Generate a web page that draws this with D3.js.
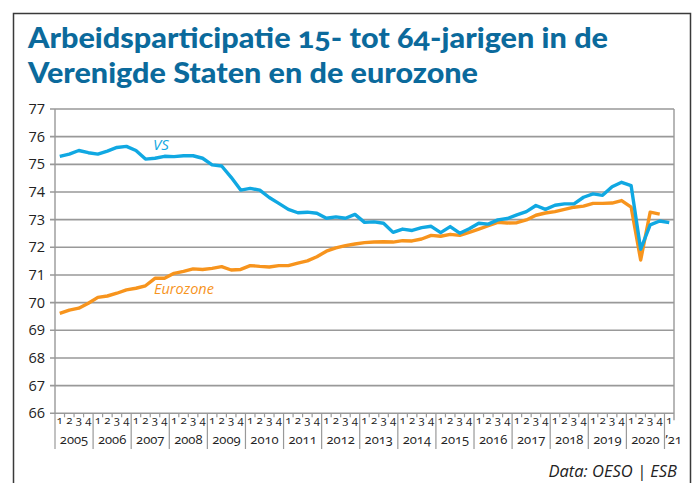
<!DOCTYPE html>
<html>
<head>
<meta charset="utf-8">
<script src="https://cdn.jsdelivr.net/npm/d3@7"></script>
<style>
  body { margin: 0; background: #fff; }
  svg { display: block; }
</style>
</head>
<body>
<div id="chart"></div>
<script>
// years on the x axis, '21 only has its first quarter
var years = ["2005","2006","2007","2008","2009","2010","2011","2012","2013","2014","2015","2016","2017","2018","2019","2020","\u201921"];
var quarterLabels = ["1","2","3","4"];
var yTicks = [66,67,68,69,70,71,72,73,74,75,76,77];

// participation 15-64 (%), 2005Q1 .. 2021Q1
var vs = [75.29,75.37,75.5,75.42,75.37,75.48,75.61,75.65,75.5,75.19,75.22,75.29,75.28,75.31,75.31,75.22,
  74.98,74.94,74.53,74.07,74.13,74.07,73.8,73.59,73.37,73.25,73.27,73.23,73.05,73.1,73.05,73.19,
  72.9,72.92,72.87,72.54,72.66,72.61,72.71,72.76,72.53,72.75,72.51,72.67,72.87,72.84,72.99,73.04,
  73.17,73.29,73.51,73.37,73.52,73.57,73.57,73.81,73.93,73.88,74.19,74.35,74.23,71.93,72.81,72.95,72.89];
// eurozone, 2005Q1 .. 2020Q4
var eurozone = [69.61,69.73,69.8,69.98,70.19,70.24,70.34,70.46,70.52,70.61,70.88,70.88,71.06,71.13,71.22,71.2,
  71.24,71.3,71.18,71.2,71.34,71.31,71.29,71.34,71.34,71.43,71.51,71.66,71.86,71.98,72.06,72.12,
  72.17,72.19,72.2,72.19,72.24,72.23,72.3,72.43,72.4,72.47,72.43,72.54,72.66,72.78,72.9,72.88,
  72.89,72.99,73.16,73.24,73.29,73.37,73.45,73.49,73.59,73.59,73.6,73.69,73.45,71.54,73.27,73.2];

var width = 696, height = 483;
var plotL = 55, plotR = 674, plotT = 109, plotB = 413.3;

var svg = d3.select("#chart").append("svg")
  .attr("width", width)
  .attr("height", height);

svg.append("rect").attr("width", width).attr("height", height).attr("fill", "#fff");

// frame round the whole graphic
svg.append("path")
  .attr("d", "M13.5,483 L13.5,13.5 L690.5,13.5 L690.5,483")
  .attr("fill", "none")
  .attr("stroke", "#3a3a3a")
  .attr("stroke-width", 1.5);

// title
var titleLines = ["Arbeidsparticipatie 15- tot 64-jarigen in de", "Verenigde Staten en de eurozone"];
var titleLen = [580, 450];
svg.selectAll(".title")
  .data(titleLines)
  .enter().append("text")
  .attr("class", "title")
  .attr("x", 28)
  .attr("y", function(d, i) { return 48 + i * 35; })
  .attr("textLength", function(d, i) { return titleLen[i]; })
  .attr("lengthAdjust", "spacingAndGlyphs")
  .style("font-family", "Lato, 'Open Sans', sans-serif")
  .style("font-weight", "900")
  .style("font-size", "29px")
  .style("font-variant-numeric", "oldstyle-nums")
  .style("fill", "#0b6a9c")
  .text(function(d) { return d; });

var n = vs.length; // 65 quarters
var x = d3.scaleBand()
  .domain(d3.range(n))
  .range([plotL, plotR])
  .paddingInner(0).paddingOuter(0);

var y = d3.scaleLinear()
  .domain([66, 77])
  .range([plotB, plotT]);

// gridlines + ticks
svg.selectAll(".grid")
  .data(yTicks)
  .enter().append("line")
  .attr("x1", plotL - 5)
  .attr("x2", plotR)
  .attr("y1", function(d) { return y(d); })
  .attr("y2", function(d) { return y(d); })
  .attr("stroke", "#999")
  .attr("stroke-width", 1.6);

svg.selectAll(".ylab")
  .data(yTicks)
  .enter().append("text")
  .attr("x", 45)
  .attr("y", function(d) { return y(d) + 5; })
  .attr("text-anchor", "end")
  .style("font-family", "'Open Sans', sans-serif")
  .style("font-size", "14.5px")
  .style("fill", "#222")
  .text(function(d) { return d; });

// side lines of the plot
svg.append("line").attr("x1", plotL).attr("x2", plotL).attr("y1", plotT).attr("y2", plotB)
  .attr("stroke", "#999").attr("stroke-width", 1.4);
svg.append("line").attr("x1", plotR).attr("x2", plotR).attr("y1", plotT).attr("y2", plotB + 7)
  .attr("stroke", "#999").attr("stroke-width", 1.4);

// quarter ticks and year separators
var bounds = d3.range(n);
svg.selectAll(".qtick")
  .data(bounds)
  .enter().append("line")
  .attr("x1", function(d) { return x(d); })
  .attr("x2", function(d) { return x(d); })
  .attr("y1", plotB)
  .attr("y2", function(d) { return d % 4 == 0 ? 449 : plotB + 4; })
  .attr("stroke", "#999")
  .attr("stroke-width", 1.2);

svg.selectAll(".qlab")
  .data(bounds)
  .enter().append("text")
  .attr("x", function(d) { return x(d) + x.bandwidth() / 2; })
  .attr("y", 424)
  .attr("text-anchor", "middle")
  .style("font-family", "'Open Sans', sans-serif")
  .style("font-size", "11.5px")
  .style("font-variant-numeric", "oldstyle-nums")
  .style("fill", "#222")
  .text(function(d) { return quarterLabels[d % 4]; });

svg.selectAll(".year")
  .data(years)
  .enter().append("text")
  .attr("x", function(d, i) {
    if (i == years.length - 1) return x(i * 4) + 1;
    return x(i * 4) + 2 * x.bandwidth();
  })
  .attr("y", 444)
  .attr("text-anchor", function(d, i) { return i == years.length - 1 ? "start" : "middle"; })
  .style("font-family", "'Open Sans', sans-serif")
  .style("font-size", "13px")
  .style("font-variant-numeric", "oldstyle-nums")
  .style("fill", "#222")
  .text(function(d) { return d; });

// series
var line = d3.line()
  .x(function(d, i) { return x(i) + x.bandwidth() / 2; })
  .y(function(d) { return y(d); });

svg.append("path")
  .datum(eurozone)
  .attr("d", line)
  .attr("fill", "none")
  .attr("stroke", "#f7941d")
  .attr("stroke-width", 3.4)
  .attr("stroke-linejoin", "round");

svg.append("path")
  .datum(vs)
  .attr("d", line)
  .attr("fill", "none")
  .attr("stroke", "#10a8e2")
  .attr("stroke-width", 3.4)
  .attr("stroke-linejoin", "round");

svg.append("text")
  .attr("x", 153).attr("y", 150)
  .style("font-family", "'Open Sans', sans-serif")
  .style("font-style", "italic")
  .style("font-size", "15px")
  .style("fill", "#10a8e2")
  .text("VS");

svg.append("text")
  .attr("x", 154).attr("y", 294)
  .style("font-family", "'Open Sans', sans-serif")
  .style("font-style", "italic")
  .style("font-size", "14.5px")
  .style("fill", "#f7941d")
  .text("Eurozone");

svg.append("text")
  .attr("x", 677).attr("y", 477)
  .attr("text-anchor", "end")
  .style("font-family", "'Open Sans', sans-serif")
  .style("font-style", "italic")
  .style("font-size", "16.5px")
  .style("fill", "#222")
  .text("Data: OESO | ESB");
</script>
</body>
</html>
